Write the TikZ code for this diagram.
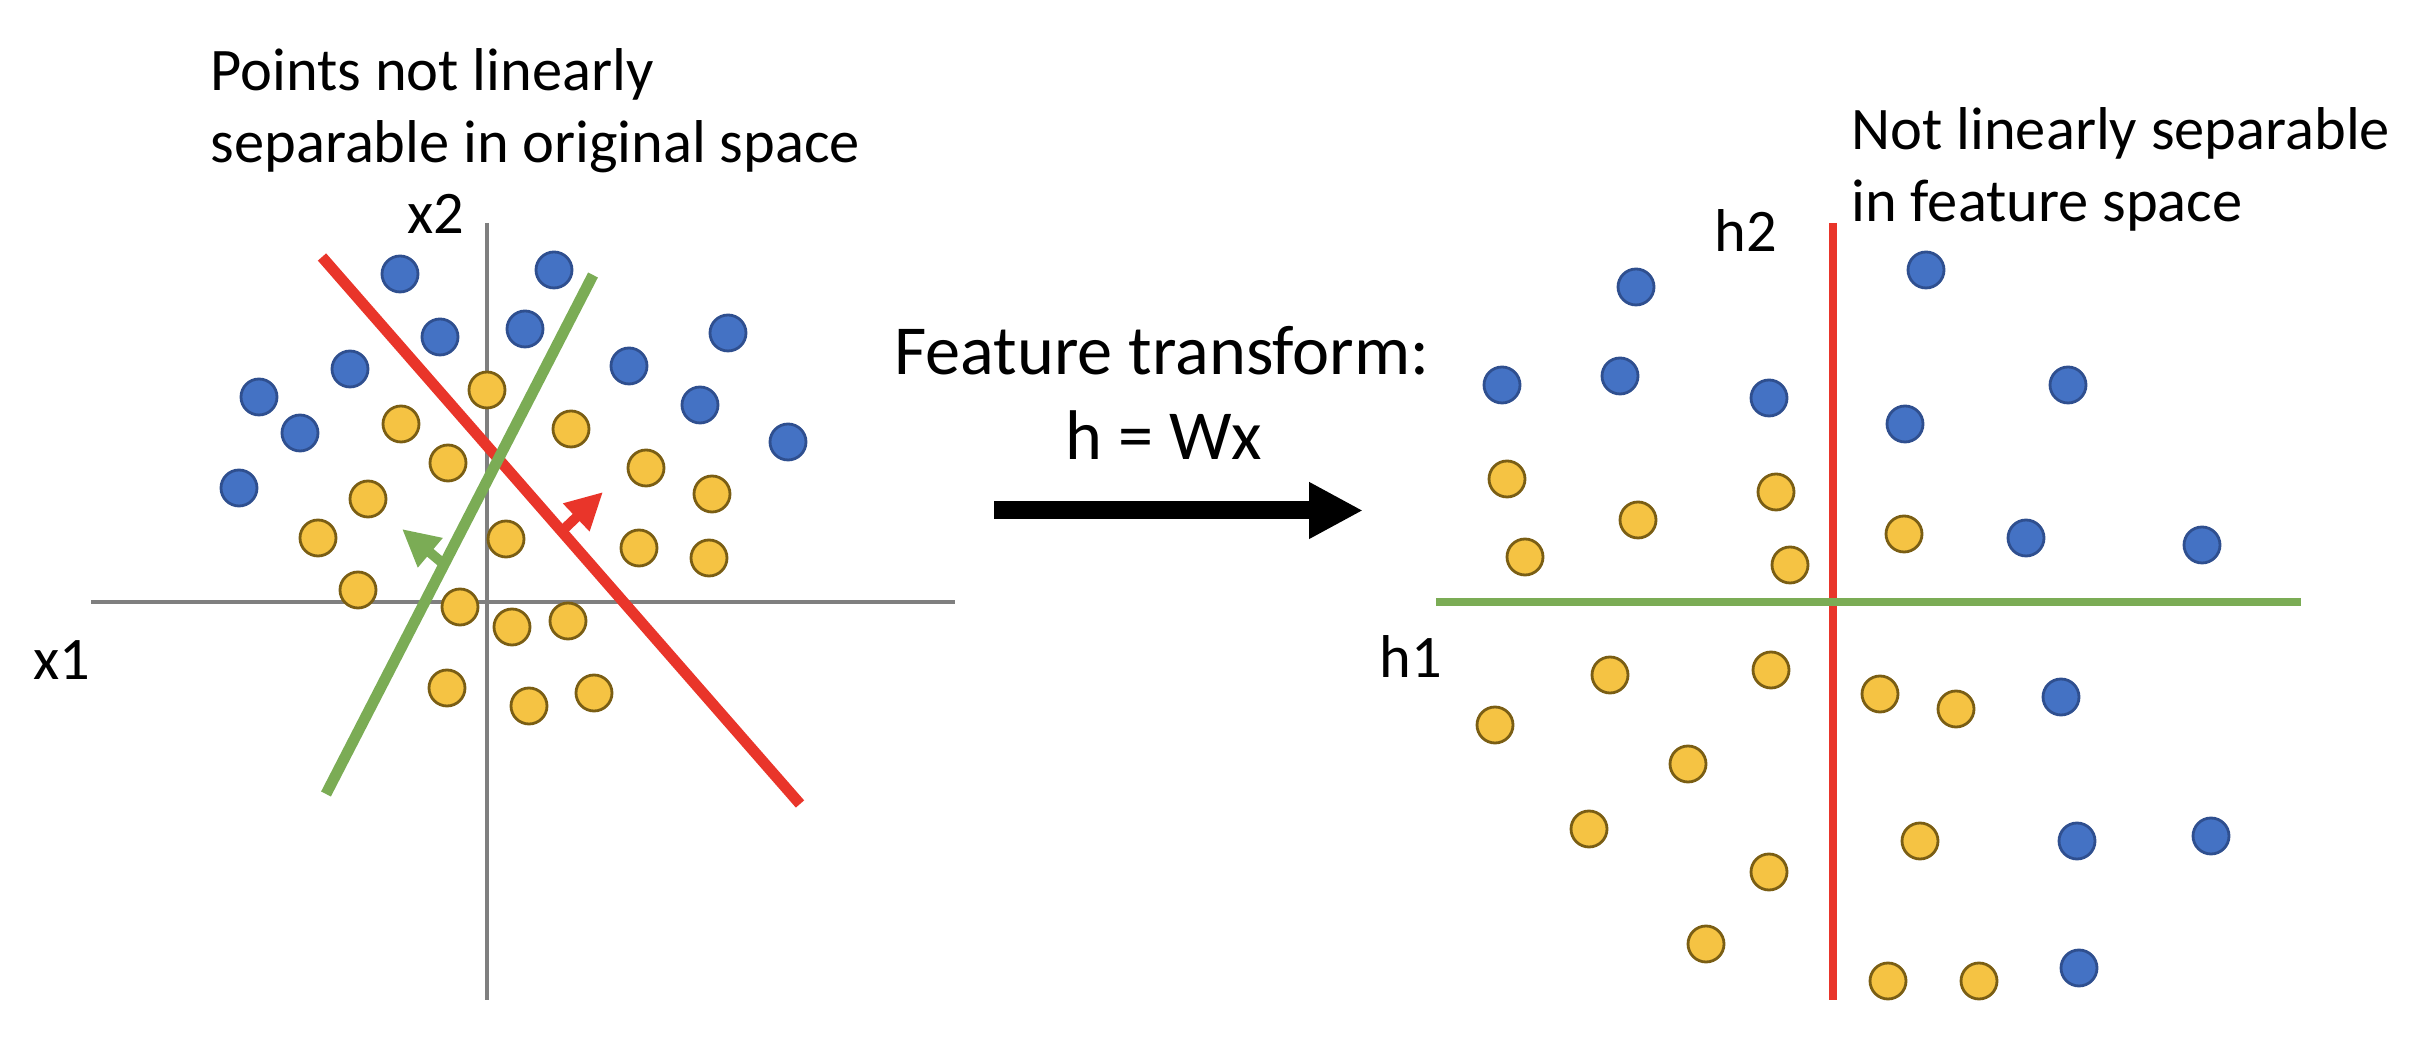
\documentclass[tikz,border=0pt]{standalone}
\usepackage{fontspec}
\setmainfont{Carlito}
\usetikzlibrary{arrows.meta}
\definecolor{dotblue}{HTML}{4472C4}
\definecolor{dotblueline}{HTML}{2F4F8F}
\definecolor{dotyellow}{HTML}{F5C343}
\definecolor{dotyellowline}{HTML}{7A5E14}
\definecolor{sepred}{HTML}{E9352A}
\definecolor{sepgreen}{HTML}{7BAC55}
\definecolor{axisgray}{HTML}{7F7F7F}
\tikzset{
  bdot/.style={circle,fill=dotblue,draw=dotblueline,line width=0.8pt,minimum size=0.36cm,inner sep=0pt},
  ydot/.style={circle,fill=dotyellow,draw=dotyellowline,line width=0.8pt,minimum size=0.36cm,inner sep=0pt},
  lbl/.style={font=\fontsize{17.2}{20.5}\selectfont,inner sep=0pt},
  big/.style={font=\fontsize{20}{28}\selectfont,inner sep=0pt},
}
\begin{document}
\begin{tikzpicture}[x=1cm,y=-1cm]
\useasboundingbox (0,0) rectangle (24.16,10.52);
% original space
\node[lbl,anchor=base west,align=left] (ttl) at (2.10,1.63) {Points not linearly\\separable in original space};
\node[lbl] (x2) at (4.36,2.14) {x2};
\node[lbl] (x1) at (0.62,6.60) {x1};
\coordinate (x2top) at (4.87,2.23);
\coordinate (x2bot) at (4.87,10.00);
\coordinate (x1left) at (0.91,6.02);
\coordinate (x1right) at (9.55,6.02);
\draw[axisgray,line width=0.04cm] (x2top)--(x2bot);
\draw[axisgray,line width=0.04cm] (x1left)--(x1right);
\foreach \x/\y [count=\i] in {4.00/2.74,5.54/2.70,4.40/3.37,5.25/3.29,3.50/3.69,7.28/3.33,6.29/3.66,2.59/3.97,3.00/4.33,7.00/4.05,7.88/4.42,2.39/4.88}
  \node[bdot] (lb\i) at (\x,\y) {};
\foreach \x/\y [count=\i] in {4.87/3.90,4.01/4.24,5.71/4.29,4.48/4.63,6.46/4.68,3.68/4.99,7.12/4.94,3.18/5.38,5.06/5.39,6.39/5.48,7.09/5.58,3.58/5.90,4.60/6.07,5.12/6.27,5.68/6.21,4.47/6.88,5.29/7.06,5.94/6.93}
  \node[ydot] (ly\i) at (\x,\y) {};
\coordinate (r1) at (3.22,2.57);
\coordinate (r2) at (8.00,8.04);
\coordinate (g1) at (5.93,2.75);
\coordinate (g2) at (3.26,7.94);
\draw[sepred,line width=0.11cm] (r1)--(r2);
\draw[sepgreen,line width=0.11cm] (g1)--(g2);
\coordinate (ra) at (5.62,5.31);
\coordinate (rb) at (6.03,4.92);
\coordinate (ga) at (4.46,5.66);
\coordinate (gb) at (4.02,5.29);
\draw[sepred,line width=0.1cm,-{Triangle[length=0.37cm,width=0.36cm]}] (ra)--(rb);
\draw[sepgreen,line width=0.1cm,-{Triangle[length=0.37cm,width=0.36cm]}] (ga)--(gb);
% transform
\node[big,anchor=base] (ft) at (11.62,3.75) {Feature transform:};
\node[big,anchor=base] (hw) at (11.64,4.60) {h = Wx};
\coordinate (ta) at (9.94,5.105);
\coordinate (tb) at (13.63,5.105);
\draw[black,line width=0.18cm,-{Triangle[length=0.54cm,width=0.53cm]}] (ta)--(tb);
% feature space
\node[lbl,anchor=base west,align=left] (fttl) at (18.51,2.22) {Not linearly separable\\in feature space};
\node[lbl] (h2) at (17.46,2.31) {h2};
\node[lbl] (h1) at (14.11,6.57) {h1};
\foreach \x/\y [count=\i] in {16.36/2.87,19.26/2.70,15.02/3.85,16.20/3.76,17.69/3.98,20.68/3.85,19.05/4.24,20.26/5.38,22.02/5.45,20.61/6.97,20.77/8.41,22.11/8.36,20.79/9.68}
  \node[bdot] (rb\i) at (\x,\y) {};
\foreach \x/\y [count=\i] in {15.07/4.79,17.76/4.92,16.38/5.20,19.04/5.34,15.25/5.57,17.90/5.65,16.10/6.75,17.71/6.70,18.80/6.94,19.56/7.09,14.95/7.25,16.88/7.64,15.89/8.29,19.20/8.41,17.69/8.72,17.06/9.44,18.88/9.81,19.79/9.81}
  \node[ydot] (ry\i) at (\x,\y) {};
\coordinate (h2top) at (18.33,2.23);
\coordinate (h2bot) at (18.33,10.00);
\coordinate (h1left) at (14.36,6.02);
\coordinate (h1right) at (23.01,6.02);
\draw[sepred,line width=0.08cm] (h2top)--(h2bot);
\draw[sepgreen,line width=0.085cm] (h1left)--(h1right);
\end{tikzpicture}
\end{document}
